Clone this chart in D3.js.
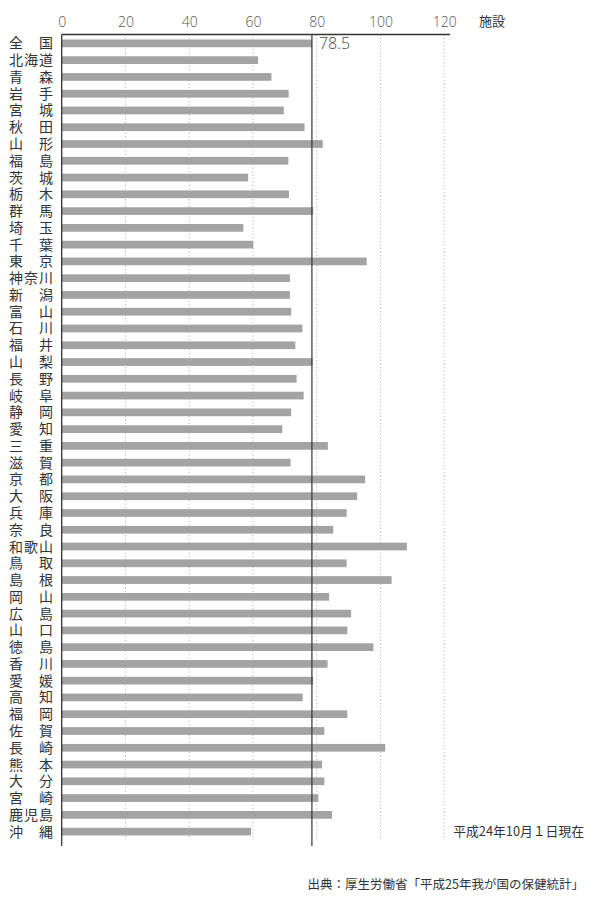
<!DOCTYPE html>
<html>
<head>
<meta charset="utf-8">
<script src="https://cdn.jsdelivr.net/npm/d3@7"></script>
<style>
  body { margin: 0; background: #fff; }
  svg { display: block; }
  .tick-label { font-family: "Open Sans", "Noto Sans", sans-serif; font-weight: 300; font-size: 14px; fill: #555; }
  .cat { font-family: "Noto Sans CJK JP", sans-serif; font-size: 14px; fill: #333; }
  .note { font-family: "Noto Sans CJK JP", sans-serif; font-size: 12.5px; fill: #333; }
</style>
</head>
<body>
<svg id="chart"></svg>
<script>
// 都道府県名
let prefs = ["全国","北海道","青森","岩手","宮城","秋田","山形","福島","茨城","栃木","群馬","埼玉","千葉","東京","神奈川","新潟","富山","石川","福井","山梨","長野","岐阜","静岡","愛知","三重","滋賀","京都","大阪","兵庫","奈良","和歌山","鳥取","島根","岡山","広島","山口","徳島","香川","愛媛","高知","福岡","佐賀","長崎","熊本","大分","宮崎","鹿児島","沖縄"];
// 施設数（人口10万対）
let values = [78.5,61.6,65.8,71.2,69.7,76.2,81.9,71.1,58.5,71.3,78.9,57.0,60.1,95.7,71.6,71.6,72.0,75.5,73.3,78.7,73.7,75.9,72.0,69.2,83.5,71.8,95.2,92.7,89.4,85.2,108.3,89.4,103.5,83.9,90.8,89.6,97.8,83.4,78.9,75.6,89.6,82.4,101.5,81.7,82.4,80.5,84.8,59.4];
let ticks = [0,20,40,60,80,100,120];
let national = 78.5;
let unit = "施設";
let dateNote = "平成24年10月１日現在";
let source = "出典：厚生労働省「平成25年我が国の保健統計」";

let width = 600, height = 911;
let svg = d3.select("#chart").attr("width", width).attr("height", height);

let x = d3.scaleLinear().domain([0, 120]).range([61.7, 444.2]);
let y = d3.scaleBand().domain(prefs).range([35, 840]).paddingInner(0.54).paddingOuter(0.27);

let plotTop = 34.5, plotBottom = 846;

// 目盛り線（点線）
svg.append("g")
  .selectAll("line")
  .data(ticks.filter(d => d > 0))
  .enter().append("line")
  .attr("x1", d => x(d)).attr("x2", d => x(d))
  .attr("y1", plotTop).attr("y2", 840)
  .attr("stroke", "#b5b5b5")
  .attr("stroke-width", 1)
  .attr("stroke-dasharray", "1.2,2.3");

// 棒
svg.append("g")
  .selectAll("rect")
  .data(values)
  .enter().append("rect")
  .attr("x", x(0))
  .attr("y", (d, i) => y(prefs[i]))
  .attr("width", d => x(d) - x(0))
  .attr("height", y.bandwidth())
  .attr("fill", "#a3a3a3");

// 上の軸
let axisX = d3.axisTop(x).tickValues(ticks).tickSize(0).tickPadding(0);
let gx = svg.append("g")
  .attr("transform", `translate(0, 27)`)
  .call(axisX);
gx.select(".domain").remove();
gx.selectAll("text").attr("class", "tick-label").attr("dy", 0).attr("fill", null);

svg.append("line")
  .attr("x1", x(0)).attr("x2", 450)
  .attr("y1", plotTop).attr("y2", plotTop)
  .attr("stroke", "#333").attr("stroke-width", 1.3);

svg.append("line")
  .attr("x1", x(0)).attr("x2", x(0))
  .attr("y1", plotTop).attr("y2", plotBottom)
  .attr("stroke", "#333").attr("stroke-width", 1.3);

// 全国平均線
svg.append("line")
  .attr("x1", x(national)).attr("x2", x(national))
  .attr("y1", plotTop).attr("y2", plotBottom)
  .attr("stroke", "#333").attr("stroke-width", 1.2);

svg.append("text")
  .attr("class", "tick-label")
  .style("font-size", "16px")
  .style("fill", "#444")
  .attr("x", x(national) + 7)
  .attr("y", y(prefs[0]) + y.bandwidth() / 2 + 6)
  .text(national);

svg.append("text")
  .attr("class", "note")
  .style("font-size", "13px")
  .attr("x", 479)
  .attr("y", 26)
  .text(unit);

// 都道府県ラベル（均等割り付け）
let labelLeft = 9, charW = 15;
prefs.forEach(function(name) {
  let chars = name.split("");
  let n = chars.length;
  chars.forEach(function(c, j) {
    let pos = n === 1 ? 0 : j * (2 / (n - 1));
    svg.append("text")
      .attr("class", "cat")
      .attr("x", labelLeft + pos * charW)
      .attr("y", y(name) + y.bandwidth() / 2 + 5)
      .text(c);
  });
});

svg.append("text")
  .attr("class", "note")
  .style("font-size", "12.8px")
  .attr("x", 584)
  .attr("y", y(prefs[prefs.length - 1]) + y.bandwidth() / 2 + 4.5)
  .attr("text-anchor", "end")
  .text(dateNote);

svg.append("text")
  .attr("class", "note")
  .attr("x", 584)
  .attr("y", 889)
  .attr("text-anchor", "end")
  .text(source);
</script>
</body>
</html>
